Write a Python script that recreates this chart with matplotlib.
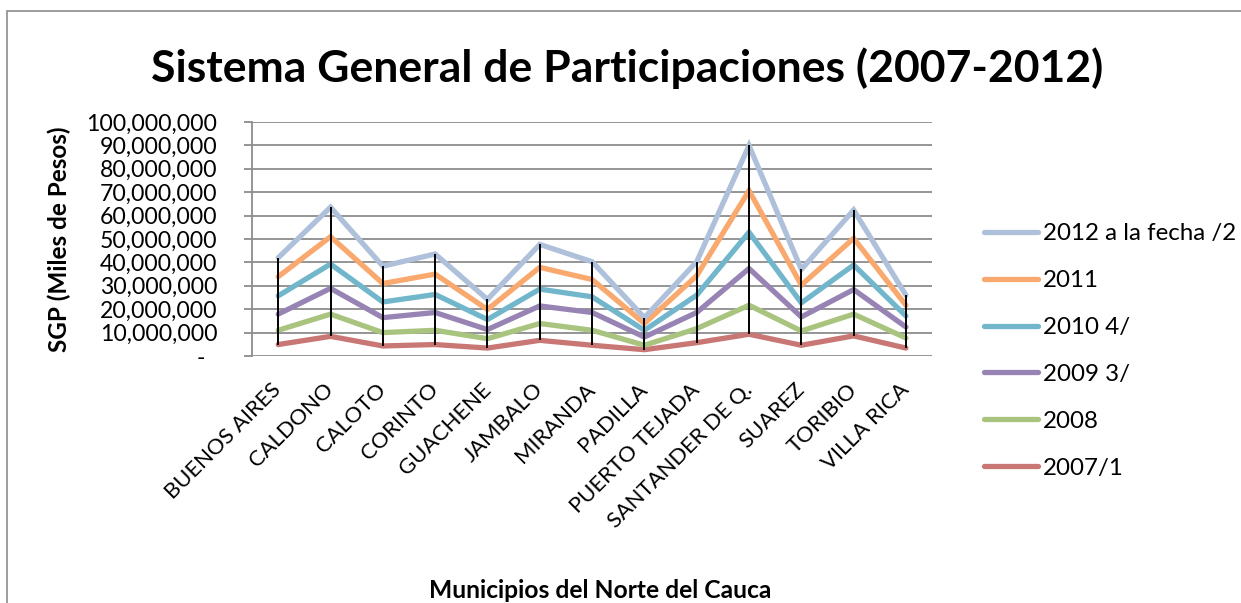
import matplotlib
matplotlib.use("Agg")
import matplotlib.pyplot as plt
import numpy as np
from matplotlib.patches import Rectangle
from matplotlib.ticker import FuncFormatter, MultipleLocator
from matplotlib.transforms import ScaledTranslation

plt.rcParams['font.family'] = ['Lato', 'DejaVu Sans']

# municipios (eje x)
municipios = ["BUENOS AIRES", "CALDONO", "CALOTO", "CORINTO", "GUACHENE", "JAMBALO",
              "MIRANDA", "PADILLA", "PUERTO TEJADA", "SANTANDER DE Q.", "SUAREZ",
              "TORIBIO", "VILLA RICA"]

# valores por año, en millones de (miles de pesos) -> se apilan
sgp_2007 = [4.9, 8.4, 4.3, 4.9, 3.4, 6.7, 4.6, 2.7, 5.7, 9.3, 4.6, 8.6, 3.4]
sgp_2008 = [6.1, 9.5, 5.7, 6.1, 4.0, 7.2, 6.4, 1.9, 6.0, 12.4, 6.1, 9.3, 4.3]
sgp_2009 = [6.9, 11.0, 6.4, 7.6, 3.9, 7.5, 7.6, 3.5, 6.9, 15.7, 6.0, 10.5, 4.7]
sgp_2010 = [7.8, 10.4, 6.7, 7.7, 4.3, 7.2, 6.7, 2.9, 7.4, 15.5, 6.0, 10.5, 4.7]
sgp_2011 = [8.2, 11.7, 7.9, 8.7, 4.3, 9.3, 7.4, 2.9, 8.3, 17.8, 7.6, 11.4, 4.6]
sgp_2012 = [8.1, 12.6, 7.4, 8.6, 4.3, 9.8, 7.6, 2.5, 6.0, 19.3, 6.7, 12.1, 4.3]

series = [sgp_2007, sgp_2008, sgp_2009, sgp_2010, sgp_2011, sgp_2012]
etiquetas = ["2007/1", "2008", "2009 3/", "2010 4/", "2011", "2012 a la fecha /2"]
colores = ["#C87775", "#A9C47F", "#9884B4", "#72B6CC", "#F9A86E", "#AFC0DA"]

apilado = np.cumsum(np.array(series) * 1e6, axis=0)
x = np.arange(len(municipios))

fig = plt.figure(figsize=(12.41, 6.03), dpi=100)
ax = fig.add_axes([0.2031, 0.4096, 0.548, 0.388])

for i in range(len(series)):
    ax.plot(x, apilado[i], color=colores[i], lw=3.8, label=etiquetas[i],
            solid_capstyle='round', solid_joinstyle='miter', zorder=3)

# lineas de maximo-minimo
ax.vlines(x, apilado[0], apilado[-1], color='black', lw=1.4, zorder=4)

ax.set_xlim(-0.5, len(municipios) - 0.5)
ax.set_ylim(0, 100e6)
ax.yaxis.set_major_locator(MultipleLocator(10e6))
ax.yaxis.set_major_formatter(FuncFormatter(lambda v, p: "-  " if v == 0 else f"{v:,.0f}"))
ax.grid(axis='y', color='#8C8C8C', lw=1.3)
ax.set_axisbelow(True)
for s in ['top', 'right', 'bottom']:
    ax.spines[s].set_visible(False)
ax.spines['left'].set_color('#8C8C8C')
ax.spines['left'].set_linewidth(1.3)
ax.tick_params(axis='y', length=6, color='#8C8C8C', width=1.3, pad=19, labelsize=16.6)
ax.tick_params(axis='x', length=0, pad=17)
ax.set_xticks(x)
ax.set_xticklabels(municipios, rotation=45, ha='right', va='top',
                   rotation_mode='anchor', fontsize=15.8)
desplazamiento = ScaledTranslation(-0.07, 0, fig.dpi_scale_trans)
for lab in ax.get_xticklabels():
    lab.set_transform(lab.get_transform() + desplazamiento)

ax.set_ylabel("SGP (Miles de Pesos)", fontsize=17.5, fontweight='bold', labelpad=11)
fig.text(0.484, 0.021, "Municipios del Norte del Cauca", ha='center', va='center',
         fontsize=17.7, fontweight='bold')
fig.text(0.505, 0.887, "Sistema General de Participaciones (2007-2012)", ha='center',
         va='center', fontsize=32, fontweight='bold')

h, l = ax.get_legend_handles_labels()
fig.legend(h[::-1], l[::-1], loc='center left', bbox_to_anchor=(0.775, 0.418),
           frameon=False, fontsize=17.4, handlelength=2.27, labelspacing=1.07,
           handletextpad=0.2)

# borde del grafico
fig.patches.append(Rectangle((7 / 1241, -0.1), 1.2, 1 - 11 / 603 + 0.1,
                             transform=fig.transFigure, fill=False,
                             edgecolor='#8C8C8C', lw=1.2))

fig.savefig("out.png", dpi=100)
